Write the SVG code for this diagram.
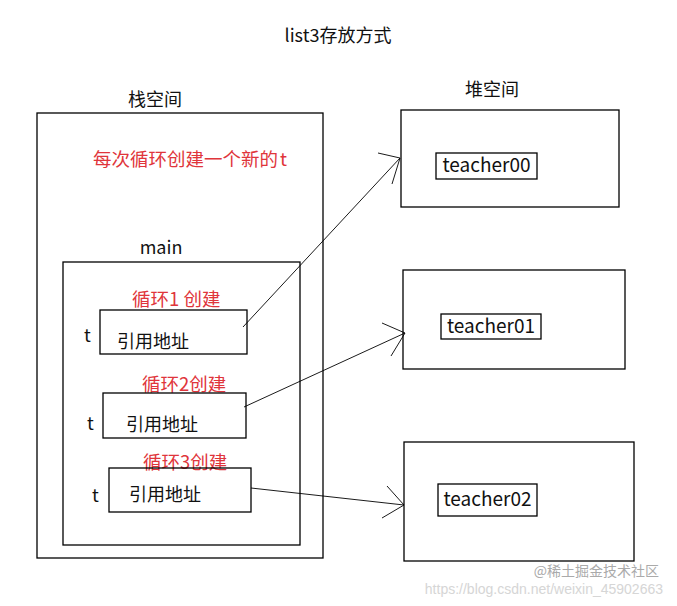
<svg xmlns="http://www.w3.org/2000/svg" width="677" height="606" viewBox="0 0 677 606">
<style>
.b{fill:none;stroke:#000;stroke-width:1.3}
.t{font-family:"Noto Sans CJK SC","Liberation Sans",sans-serif;fill:#111;font-size:18px}
.r{fill:#e0353b;font-size:18.5px}
.w{font-size:19px}
.c{fill:none;stroke:#000;stroke-width:0.9}
</style>
<rect width="677" height="606" fill="#fff"/>
<text class="t" x="338" y="42" text-anchor="middle" font-size="17">list3存放方式</text>
<g id="stack">
<rect class="b" x="37" y="113" width="286" height="445"/>
<text class="t" x="155" y="106" text-anchor="middle">栈空间</text>
<text class="t r" x="93" y="166" font-size="17.5">每次循环创建一个新的</text>
<text class="t r" x="280" y="166">t</text>
</g>
<g id="main">
<rect class="b" x="63" y="262" width="237" height="283"/>
<text class="t" x="161" y="254" text-anchor="middle" font-size="18.5">main</text>
</g>
<g id="t1">
<text class="t r" x="132" y="306">循环1 创建</text>
<text class="t" x="84" y="342">t</text>
<rect class="b" x="100" y="310" width="147" height="44"/>
<text class="t" x="117" y="348">引用地址</text>
</g>
<g id="t2">
<text class="t r" x="142" y="391">循环2创建</text>
<text class="t" x="87" y="430">t</text>
<rect class="b" x="103" y="393" width="143" height="45"/>
<text class="t" x="126" y="431">引用地址</text>
</g>
<g id="t3">
<text class="t r" x="143" y="469">循环3创建</text>
<text class="t" x="92" y="502">t</text>
<rect class="b" x="109" y="468" width="142" height="44"/>
<text class="t" x="129" y="501">引用地址</text>
</g>
<g id="heap">
<text class="t" x="492" y="96" text-anchor="middle">堆空间</text>
</g>
<g id="h0">
<rect class="b" x="401" y="110" width="218" height="97"/>
<rect class="b" x="436" y="153" width="101" height="26"/>
<text class="t w" x="486.5" y="172" text-anchor="middle">teacher00</text>
</g>
<g id="h1">
<rect class="b" x="403" y="270" width="222" height="99"/>
<rect class="b" x="441" y="314" width="100" height="25"/>
<text class="t w" x="491" y="333" text-anchor="middle">teacher01</text>
</g>
<g id="h2">
<rect class="b" x="404" y="442" width="230" height="119"/>
<rect class="b" x="438" y="484" width="99" height="32"/>
<text class="t w" x="487.5" y="506" text-anchor="middle">teacher02</text>
</g>
<g id="connectors">
<path class="c" d="M243,327 L400,158 M378,153 L400,158 L392,184"/>
<path class="c" d="M244,407 L405,333 M382,323 L405,333 L391,356"/>
<path class="c" d="M251,488 L404,505 M387,486 L404,505 L382,518"/>
</g>
<text x="663" y="594" text-anchor="end" font-family="Liberation Sans,sans-serif" font-size="14" fill="#ccc" opacity="0.8">https://blog.csdn.net/weixin_45902663</text>
<text x="659" y="576" text-anchor="end" font-family="Noto Sans CJK SC,sans-serif" font-size="14" fill="#aaa">@稀土掘金技术社区</text>
</svg>
